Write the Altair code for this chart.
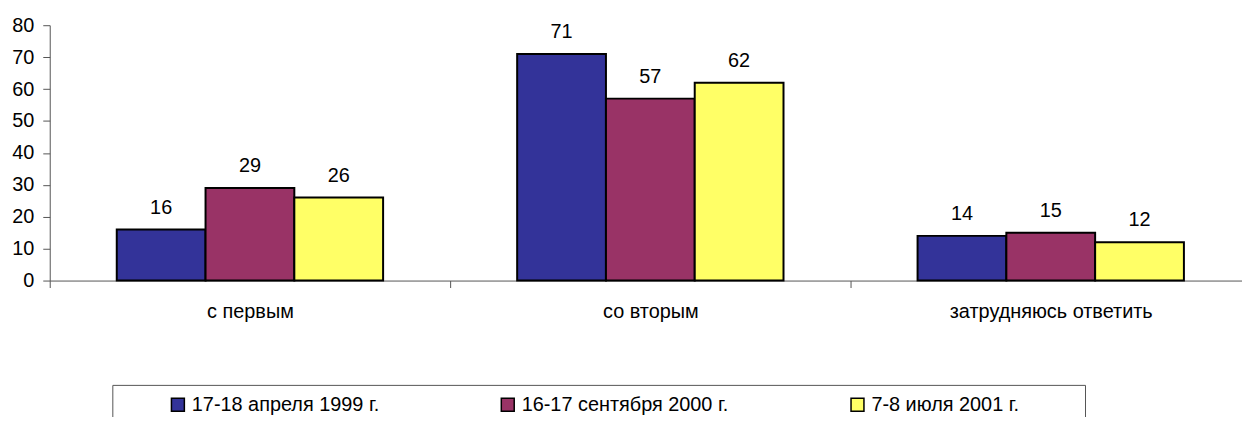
import altair as alt
import pandas as pd

categories = ["с первым", "со вторым", "затрудняюсь ответить"]
series = ["17-18 апреля 1999 г.", "16-17 сентября 2000 г.", "7-8 июля 2001 г."]
values_1999 = [16, 71, 14]
values_2000 = [29, 57, 15]
values_2001 = [26, 62, 12]
colors = ["#333399", "#993366", "#FFFF66"]
y_ticks = [0, 10, 20, 30, 40, 50, 60, 70, 80]

rows = []
for s, vals in zip(series, [values_1999, values_2000, values_2001]):
    for c, v in zip(categories, vals):
        rows.append({"cat": c, "series": s, "value": v})
df = pd.DataFrame(rows)

FONT = "Liberation Sans"
FS = 20
AXIS_COLOR = "#555555"

x_enc = alt.X(
    "cat:N",
    sort=categories,
    title=None,
    scale=alt.Scale(range=[0, 1209], paddingInner=0, paddingOuter=0),
    axis=alt.Axis(
        labelAngle=0,
        tickBand="extent",
        tickSize=7,
        labelPadding=14,
        labelFontSize=FS,
        labelFont=FONT,
        labelColor="black",
        labelLimit=0,
        domainColor=AXIS_COLOR,
        tickColor=AXIS_COLOR,
        grid=False,
    ),
)
xoff_enc = alt.XOffset(
    "series:N", sort=series, scale=alt.Scale(paddingInner=0, paddingOuter=0.755)
)
y_enc = alt.Y(
    "value:Q",
    title=None,
    scale=alt.Scale(domain=[0, 80], nice=False),
    axis=alt.Axis(
        values=y_ticks,
        tickSize=7,
        labelPadding=9,
        labelFontSize=FS,
        labelFont=FONT,
        labelColor="black",
        labelOverlap=False,
        domainColor=AXIS_COLOR,
        tickColor=AXIS_COLOR,
        grid=False,
    ),
)

base = alt.Chart(df)

bars = base.mark_bar(stroke="black", strokeWidth=2).encode(
    x=x_enc,
    xOffset=xoff_enc,
    y=y_enc,
    color=alt.Color(
        "series:N",
        sort=series,
        scale=alt.Scale(domain=series, range=colors),
        legend=alt.Legend(
            title="\u00a0",
            titleOrient="right",
            titlePadding=56,
            titleFontSize=4,
            orient="none",
            legendX=63,
            legendY=362,
            direction="horizontal",
            columns=3,
            padding=10,
            strokeColor=AXIS_COLOR,
            fillColor="white",
            symbolType="square",
            symbolSize=169,
            symbolStrokeColor="black",
            symbolStrokeWidth=1.5,
            symbolOffset=46,
            labelOffset=4,
            labelFontSize=FS,
            labelFont=FONT,
            labelColor="black",
            labelLimit=0,
            columnPadding=73,
        ),
    ),
)

labels = base.mark_text(baseline="alphabetic", dy=-16, fontSize=FS, font=FONT, color="black").encode(
    x=x_enc,
    xOffset=xoff_enc,
    y=y_enc,
    text=alt.Text("value:Q"),
)

chart = alt.layer(bars, labels).properties(
    width=1200,
    height=257,
    padding={"left": 42, "top": 16, "right": 0, "bottom": 136},
    autosize=alt.AutoSizeParams(type="none"),
).configure_view(stroke=None)

chart.save("out.html", embed_options={"renderer": "svg", "actions": False})
